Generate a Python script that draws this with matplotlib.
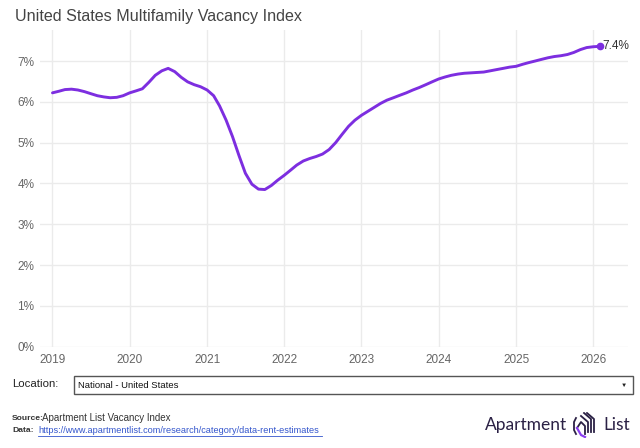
import matplotlib
matplotlib.use("Agg")
import matplotlib.pyplot as plt
import matplotlib.dates as mdates
import matplotlib.patches as patches
import pandas as pd

# monthly vacancy rate (%), Jan 2019 .. Feb 2026
vac_2019 = [6.22, 6.26, 6.30, 6.31, 6.29, 6.25, 6.20, 6.15, 6.12, 6.10, 6.11, 6.15]
vac_2020 = [6.22, 6.27, 6.32, 6.48, 6.65, 6.76, 6.82, 6.74, 6.60, 6.49, 6.42, 6.37]
vac_2021 = [6.29, 6.15, 5.90, 5.55, 5.15, 4.68, 4.25, 3.98, 3.86, 3.85, 3.95, 4.08]
vac_2022 = [4.20, 4.33, 4.45, 4.55, 4.61, 4.66, 4.72, 4.83, 5.00, 5.20, 5.40, 5.55]
vac_2023 = [5.67, 5.77, 5.86, 5.96, 6.04, 6.10, 6.16, 6.22, 6.29, 6.35, 6.42, 6.49]
vac_2024 = [6.56, 6.61, 6.65, 6.68, 6.70, 6.71, 6.72, 6.73, 6.76, 6.79, 6.82, 6.85]
vac_2025 = [6.87, 6.92, 6.96, 7.00, 7.04, 7.08, 7.11, 7.13, 7.16, 7.21, 7.28, 7.33]
vac_2026 = [7.35, 7.36]

vacancy = vac_2019 + vac_2020 + vac_2021 + vac_2022 + vac_2023 + vac_2024 + vac_2025 + vac_2026
dates = pd.date_range("2019-01-01", periods=len(vacancy), freq="MS")

years = list(range(2019, 2027))
y_ticks = [0, 1, 2, 3, 4, 5, 6, 7]

title = "United States Multifamily Vacancy Index"
end_label = "7.4%"
location = "National - United States"
source = "Apartment List Vacancy Index"
data_url = "https://www.apartmentlist.com/research/category/data-rent-estimates"

LINE = "#7d2ee0"
GRID = "#ebebeb"
TICK = "#666666"
FONT = "Liberation Sans"

plt.rcParams["font.family"] = [FONT, "DejaVu Sans"]

fig = plt.figure(figsize=(6.4, 4.48), dpi=100)
ax = fig.add_axes([0.0625, 0.2254, 0.9187, 0.7076])

ax.plot(dates, vacancy, color=LINE, lw=2.1, solid_capstyle="round", zorder=3)
ax.plot(dates[-1], vacancy[-1], "o", color=LINE, ms=4.5, zorder=4)
ax.annotate(end_label, (dates[-1], vacancy[-1]), xytext=(2, 0), textcoords="offset points",
            ha="left", va="center", fontsize=8.5, color="#333333")

ax.set_xlim(pd.Timestamp("2018-11-03"), pd.Timestamp("2026-06-14"))
ax.set_ylim(-0.01, 7.76)
ax.set_xticks([pd.Timestamp(f"{y}-01-01") for y in years])
ax.xaxis.set_major_formatter(mdates.DateFormatter("%Y"))
ax.set_yticks(y_ticks)
ax.set_yticklabels([f"{v}%" for v in y_ticks])
ax.grid(True, color=GRID, lw=1.0)
ax.set_axisbelow(True)
for s in ax.spines.values():
    s.set_visible(False)
ax.tick_params(length=0, labelsize=8.5, labelcolor=TICK)
ax.tick_params(axis="x", pad=5)
ax.tick_params(axis="y", pad=4)

fig.text(15 / 640, 1 - 16 / 448, title, fontsize=11.6, color="#444444", va="center", ha="left")

# location selector
fig.text(12 / 640, 1 - 384 / 448, "Location:", fontsize=8.2, color="#222222", va="center")
box = patches.Rectangle((74 / 640, 1 - 394 / 448), 559 / 640, 18 / 448, transform=fig.transFigure,
                        fill=False, edgecolor="#555555", lw=1.0)
fig.patches.append(box)
fig.text(78 / 640, 1 - 385 / 448, location, fontsize=6.8, color="#111111", va="center")
fig.text(624 / 640, 1 - 385 / 448, "\u25bc", fontsize=4.5, color="#222222", va="center", ha="center")

# source / data notes
fig.text(12 / 640, 1 - 418 / 448, "Source:", fontsize=6.1, fontweight="bold", color="#333333", va="center")
fig.text(42 / 640, 1 - 418 / 448, source, fontsize=7.0, color="#333333", va="center")
fig.text(12 / 640, 1 - 430 / 448, "Data:", fontsize=6.1, fontweight="bold", color="#333333", va="center")
fig.text(38 / 640, 1 - 430 / 448, data_url, fontsize=6.6, color="#3355cc", va="center")
fig.add_artist(plt.Line2D([38 / 640, 322 / 640], [1 - 436 / 448, 1 - 436 / 448], color="#3355cc", lw=0.6))

# logo
LOGO = "#2b2145"
fig.text(485 / 640, 1 - 425 / 448, "Apartment", fontsize=12.5, color=LOGO, va="center", family="Lato")
fig.text(603 / 640, 1 - 425 / 448, "List", fontsize=12.5, color=LOGO, va="center", family="Lato")
icon = fig.add_axes([571 / 640, 1 - 438 / 448, 28 / 640, 26 / 448])
icon.set_xlim(0, 28)
icon.set_ylim(0, 26)
icon.axis("off")
icon.plot([5, 3, 3, 5], [20, 16, 8, 4], color=LOGO, lw=1.3)
icon.plot([6, 10, 14, 14], [10, 16, 12, 4], color=LOGO, lw=1.3)
icon.plot([10, 17, 17], [22, 16, 6], color=LOGO, lw=1.3)
icon.plot([13, 20, 20], [25, 19, 6], color=LOGO, lw=1.3)
icon.plot([16, 23, 23], [25, 19, 6], color=LOGO, lw=1.3)
icon.plot([6, 10, 14], [10, 3, 1], color="#8a3ff0", lw=1.6)

fig.savefig("out.png", dpi=100)
